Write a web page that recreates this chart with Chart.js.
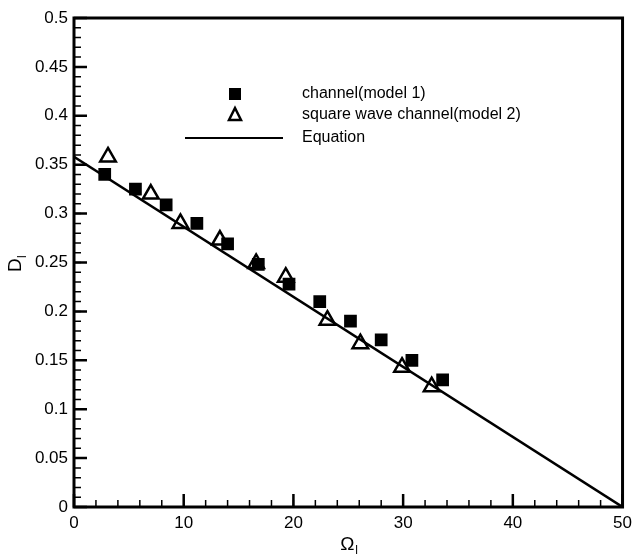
<!DOCTYPE html>
<html>
<head>
<meta charset="utf-8">
<script src="https://cdn.jsdelivr.net/npm/chart.js@4.4.0/dist/chart.umd.min.js"></script>
<style>
  html, body { margin: 0; padding: 0; background: #fff; }
</style>
</head>
<body>
<canvas id="chartCanvas" width="638" height="556"></canvas>
<script>
// values
var xTicks = [0, 10, 20, 30, 40, 50];
var yTicks = [0, 0.05, 0.1, 0.15, 0.2, 0.25, 0.3, 0.35, 0.4, 0.45, 0.5];
var yTickLabels = ['0', '0.05', '0.1', '0.15', '0.2', '0.25', '0.3', '0.35', '0.4', '0.45', '0.5'];

var model1X = [2.8, 5.6, 8.4, 11.2, 14.0, 16.8, 19.6, 22.4, 25.2, 28.0, 30.8, 33.6];
var model1Y = [0.340, 0.325, 0.309, 0.290, 0.269, 0.248, 0.228, 0.210, 0.190, 0.171, 0.150, 0.130];

var model2X = [3.1, 7.0, 9.7, 13.3, 16.6, 19.3, 23.1, 26.1, 29.9, 32.6];
var model2Y = [0.358, 0.320, 0.290, 0.273, 0.249, 0.235, 0.191, 0.167, 0.143, 0.123];

var equationX = [0, 50];
var equationY = [0.358, 0];

var seriesLabels = ['channel(model 1)', 'square wave channel(model 2)', 'Equation'];

function toPoints(xs, ys) {
    return xs.map(function (x, i) { return { x: x, y: ys[i] }; });
}

var fontName = "'Liberation Sans', Arial, sans-serif";

// ticks pointing inward, box frame, axis titles and the legend
var framePlugin = {
    id: 'frame_and_legend',
    afterDraw: function (chart) {
        var ctx = chart.ctx;
        var a = chart.chartArea;
        var xs = chart.scales.x, ys = chart.scales.y;
        ctx.save();
        ctx.strokeStyle = '#000';
        ctx.lineCap = 'butt';

        // minor ticks
        ctx.lineWidth = 1.5;
        ctx.beginPath();
        for (var v = 0; v <= 50.001; v += 2) {
            var px = xs.getPixelForValue(v);
            ctx.moveTo(px, a.bottom); ctx.lineTo(px, a.bottom - 7);
        }
        for (var w = 0; w <= 0.5001; w += 0.01) {
            var py = ys.getPixelForValue(w);
            ctx.moveTo(a.left, py); ctx.lineTo(a.left + 7, py);
        }
        ctx.stroke();

        // major ticks
        ctx.lineWidth = 2.5;
        ctx.beginPath();
        xTicks.forEach(function (t) {
            var px = xs.getPixelForValue(t);
            ctx.moveTo(px, a.bottom); ctx.lineTo(px, a.bottom - 13);
        });
        yTicks.forEach(function (t) {
            var py = ys.getPixelForValue(t);
            ctx.moveTo(a.left, py); ctx.lineTo(a.left + 13, py);
        });
        ctx.stroke();

        // frame
        ctx.lineWidth = 3;
        ctx.strokeRect(a.left, a.top, a.right - a.left, a.bottom - a.top);

        // axis titles
        ctx.fillStyle = '#000';
        ctx.textBaseline = 'alphabetic';
        ctx.textAlign = 'left';
        ctx.font = '19px ' + fontName;
        var cx = (a.left + a.right) / 2;
        ctx.fillText('\u03A9', cx - 8, 550);
        ctx.font = '12px ' + fontName;
        ctx.fillText('l', cx + 7, 554);

        ctx.save();
        ctx.translate(21, 272);
        ctx.rotate(-Math.PI / 2);
        ctx.font = '19px ' + fontName;
        ctx.fillText('D', 0, 0);
        ctx.font = '12px ' + fontName;
        ctx.fillText('l', 14, 5);
        ctx.restore();

        // legend
        ctx.font = '16px ' + fontName;
        ctx.textBaseline = 'middle';
        ctx.fillText(seriesLabels[0], 302, 94);
        ctx.fillText(seriesLabels[1], 302, 115);
        ctx.fillText(seriesLabels[2], 302, 138);

        ctx.fillRect(229, 88, 12, 12);

        ctx.lineWidth = 2.5;
        ctx.beginPath();
        ctx.moveTo(235, 108); ctx.lineTo(241, 120); ctx.lineTo(229, 120); ctx.closePath();
        ctx.stroke();

        ctx.lineWidth = 2;
        ctx.beginPath();
        ctx.moveTo(185, 138); ctx.lineTo(283, 138);
        ctx.stroke();

        ctx.restore();
    }
};

var canvas = document.getElementById('chartCanvas');

new Chart(canvas, {
    type: 'scatter',
    plugins: [framePlugin],
    data: {
        datasets: [
            {
                label: seriesLabels[0],
                data: toPoints(model1X, model1Y),
                pointStyle: 'rect',
                pointRadius: 9,
                backgroundColor: '#000',
                borderColor: '#000',
                borderWidth: 0
            },
            {
                label: seriesLabels[1],
                data: toPoints(model2X, model2Y),
                pointStyle: 'triangle',
                pointRadius: 9,
                backgroundColor: 'rgba(0,0,0,0)',
                borderColor: '#000',
                borderWidth: 2.5
            },
            {
                label: seriesLabels[2],
                type: 'line',
                data: toPoints(equationX, equationY),
                showLine: true,
                borderColor: '#000',
                borderWidth: 2.5,
                pointRadius: 0,
                fill: false
            }
        ]
    },
    options: {
        responsive: false,
        animation: false,
        maintainAspectRatio: false,
        layout: { padding: { top: 18, right: 10, left: 0, bottom: 0 } },
        plugins: {
            legend: { display: false },
            tooltip: { enabled: false }
        },
        scales: {
            x: {
                type: 'linear',
                min: 0,
                max: 50,
                afterFit: function (s) { s.height = 49; },
                afterBuildTicks: function (s) { s.ticks = xTicks.map(function (v) { return { value: v }; }); },
                grid: { display: false, drawTicks: false },
                border: { display: false },
                ticks: {
                    color: '#000',
                    padding: 6,
                    maxRotation: 0,
                    font: { family: fontName, size: 17 },
                    callback: function (v) { return String(v); }
                }
            },
            y: {
                type: 'linear',
                min: 0,
                max: 0.5,
                afterFit: function (s) { s.width = 74; },
                afterBuildTicks: function (s) { s.ticks = yTicks.map(function (v) { return { value: v }; }); },
                grid: { display: false, drawTicks: false },
                border: { display: false },
                ticks: {
                    color: '#000',
                    padding: 6,
                    font: { family: fontName, size: 17 },
                    callback: function (v) {
                        var i = yTicks.findIndex(function (t) { return Math.abs(t - v) < 1e-9; });
                        return i >= 0 ? yTickLabels[i] : '';
                    }
                }
            }
        }
    }
});
</script>
</body>
</html>
